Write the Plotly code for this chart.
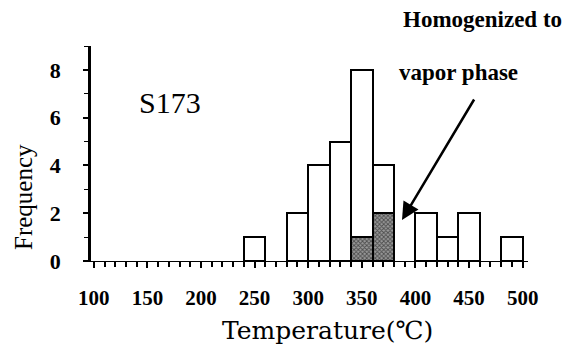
import plotly.graph_objects as go

# Homogenization temperature histogram, sample S173 (20 °C bins)
bin_start = [240, 280, 300, 320, 340, 360, 400, 420, 440, 480]
total_count = [1, 2, 4, 5, 8, 4, 2, 1, 2, 1]
vapor_count = [0, 0, 0, 0, 1, 2, 0, 0, 0, 0]
bin_width = 20

x_tick_vals = [100, 150, 200, 250, 300, 350, 400, 450, 500]
y_tick_vals = [0, 2, 4, 6, 8]

centers = [b + bin_width / 2 for b in bin_start]

W, H = 578, 349
L, R, T, B = 91, 50, 46, 88
PW, PH = W - L - R, H - T - B


def paper(px, py):
    """Convert page pixel position to paper coordinates."""
    return (px - L) / PW, (H - B - py) / PH


serif = "Liberation Serif"

fig = go.Figure()
fig.add_trace(go.Bar(
    x=centers, y=total_count, width=bin_width,
    marker=dict(color="white", line=dict(color="black", width=2)),
    showlegend=False,
))
fig.add_trace(go.Bar(
    x=centers, y=vapor_count, width=bin_width,
    marker=dict(
        color="white",
        line=dict(color="black", width=2),
        pattern=dict(shape="x", fgcolor="#000000", bgcolor="#9a9a9a",
                     size=3, solidity=0.5),
    ),
    showlegend=False,
))


def label(px, py, text, size, **kw):
    x, y = paper(px, py)
    return dict(x=x, y=y, xref="paper", yref="paper", text=text,
                xanchor="center", yanchor="middle", showarrow=False,
                font=dict(family=kw.pop("family", serif), size=size, color="black"), **kw)


annotations = [
    label(170, 102, "S173", 30),
    label(482, 20, "<b>Homogenized to</b>", 23),
    label(458, 72, "<b>vapor phase</b>", 23),
    label(23, 197, "Frequency", 25, textangle=-90),
    label(327, 330, "Temperature(℃)", 25, family="DejaVu Serif"),
]
tip_x, tip_y = paper(402, 220)
annotations.append(dict(x=tip_x, y=tip_y, xref="paper", yref="paper", text="",
                        showarrow=True, arrowhead=2, arrowsize=1.4, arrowwidth=2.5,
                        arrowcolor="black", ax=475 - 402, ay=98 - 220))

fig.update_layout(
    width=W, height=H,
    margin=dict(l=L, r=R, t=T, b=B),
    paper_bgcolor="white", plot_bgcolor="white",
    barmode="overlay", bargap=0,
    annotations=annotations,
    font=dict(family=serif, color="black"),
)
fig.update_xaxes(
    range=[97.4, 505], tickvals=x_tick_vals,
    showline=True, linecolor="black", linewidth=1.2,
    ticks="outside", ticklen=6, tickwidth=1.5, tickcolor="black",
    minor=dict(dtick=10, tick0=100, ticks="outside", ticklen=5, tickwidth=1.5, tickcolor="black"),
    showgrid=False, zeroline=False,
    ticklabelstandoff=12,
    tickfont=dict(family=serif, size=21, color="black", weight="bold"),
)
fig.update_yaxes(
    range=[0, 9], tickvals=y_tick_vals,
    showline=True, linecolor="black", linewidth=2.5,
    ticks="outside", ticklen=5, tickwidth=1.5, tickcolor="black",
    minor=dict(dtick=1, ticks="outside", ticklen=4, tickwidth=1.2, tickcolor="black"),
    showgrid=False, zeroline=False,
    ticklabelstandoff=18,
    tickfont=dict(family=serif, size=22, color="black", weight="bold"),
)

fig.write_html("out.html")
